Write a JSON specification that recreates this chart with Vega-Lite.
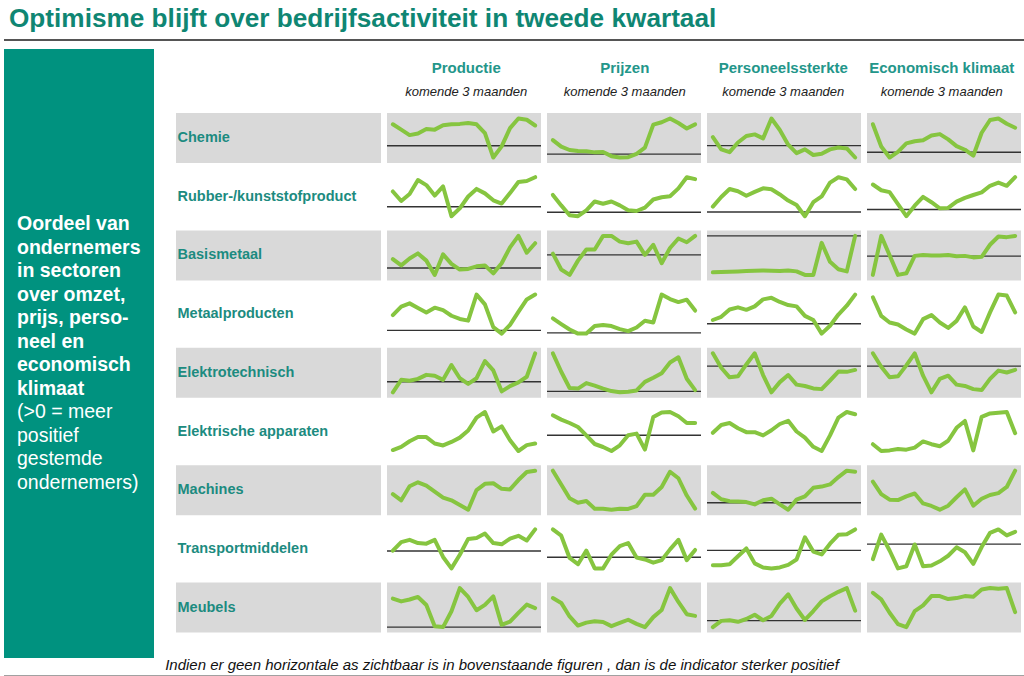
{
  "$schema": "https://vega.github.io/schema/vega-lite/v6.json",
  "background": "white",
  "padding": {"left": 3, "top": 0, "right": 0, "bottom": 0},
  "config": {
    "view": {"stroke": null},
    "font": "Liberation Sans",
    "line": {"color": "#86c540", "strokeWidth": 4, "strokeJoin": "round", "strokeCap": "round"},
    "rule": {"color": "#333333", "strokeWidth": 1.4},
    "rect": {"color": "#d9d9d9"}
  },
  "datasets": {
    "inds": [
      {"label": "Productie"}, {"label": "Prijzen"}, {"label": "Personeelssterkte"}, {"label": "Economisch klimaat"}
    ],
    "series": [
{"sector":"Chemie","ind":"Productie","t":0,"v":22.3},{"sector":"Chemie","ind":"Productie","t":1,"v":16.7},{"sector":"Chemie","ind":"Productie","t":2,"v":11},{"sector":"Chemie","ind":"Productie","t":3,"v":12.7},{"sector":"Chemie","ind":"Productie","t":4,"v":17.3},{"sector":"Chemie","ind":"Productie","t":5,"v":16.7},{"sector":"Chemie","ind":"Productie","t":6,"v":21.3},{"sector":"Chemie","ind":"Productie","t":7,"v":22.3},{"sector":"Chemie","ind":"Productie","t":8,"v":22.7},{"sector":"Chemie","ind":"Productie","t":9,"v":23.7},{"sector":"Chemie","ind":"Productie","t":10,"v":22.3},{"sector":"Chemie","ind":"Productie","t":11,"v":13},{"sector":"Chemie","ind":"Productie","t":12,"v":-12.3},{"sector":"Chemie","ind":"Productie","t":13,"v":-0.7},{"sector":"Chemie","ind":"Productie","t":14,"v":18.3},{"sector":"Chemie","ind":"Productie","t":15,"v":28.3},{"sector":"Chemie","ind":"Productie","t":16,"v":27},{"sector":"Chemie","ind":"Productie","t":17,"v":21},
{"sector":"Chemie","ind":"Prijzen","t":0,"v":13.7},{"sector":"Chemie","ind":"Prijzen","t":1,"v":7.3},{"sector":"Chemie","ind":"Prijzen","t":2,"v":4},{"sector":"Chemie","ind":"Prijzen","t":3,"v":3},{"sector":"Chemie","ind":"Prijzen","t":4,"v":2.7},{"sector":"Chemie","ind":"Prijzen","t":5,"v":1.7},{"sector":"Chemie","ind":"Prijzen","t":6,"v":2},{"sector":"Chemie","ind":"Prijzen","t":7,"v":-2},{"sector":"Chemie","ind":"Prijzen","t":8,"v":-3.3},{"sector":"Chemie","ind":"Prijzen","t":9,"v":-3},{"sector":"Chemie","ind":"Prijzen","t":10,"v":0.3},{"sector":"Chemie","ind":"Prijzen","t":11,"v":6.3},{"sector":"Chemie","ind":"Prijzen","t":12,"v":28.7},{"sector":"Chemie","ind":"Prijzen","t":13,"v":31},{"sector":"Chemie","ind":"Prijzen","t":14,"v":34.7},{"sector":"Chemie","ind":"Prijzen","t":15,"v":30.3},{"sector":"Chemie","ind":"Prijzen","t":16,"v":25},{"sector":"Chemie","ind":"Prijzen","t":17,"v":29},
{"sector":"Chemie","ind":"Personeel","t":0,"v":9},{"sector":"Chemie","ind":"Personeel","t":1,"v":-4},{"sector":"Chemie","ind":"Personeel","t":2,"v":-7},{"sector":"Chemie","ind":"Personeel","t":3,"v":3.3},{"sector":"Chemie","ind":"Personeel","t":4,"v":10.3},{"sector":"Chemie","ind":"Personeel","t":5,"v":12},{"sector":"Chemie","ind":"Personeel","t":6,"v":7.7},{"sector":"Chemie","ind":"Personeel","t":7,"v":29},{"sector":"Chemie","ind":"Personeel","t":8,"v":16.7},{"sector":"Chemie","ind":"Personeel","t":9,"v":1},{"sector":"Chemie","ind":"Personeel","t":10,"v":-8},{"sector":"Chemie","ind":"Personeel","t":11,"v":-4},{"sector":"Chemie","ind":"Personeel","t":12,"v":-10},{"sector":"Chemie","ind":"Personeel","t":13,"v":-8.7},{"sector":"Chemie","ind":"Personeel","t":14,"v":-4},{"sector":"Chemie","ind":"Personeel","t":15,"v":-2},{"sector":"Chemie","ind":"Personeel","t":16,"v":-3},{"sector":"Chemie","ind":"Personeel","t":17,"v":-12.7},
{"sector":"Chemie","ind":"Klimaat","t":0,"v":26.3},{"sector":"Chemie","ind":"Klimaat","t":1,"v":5.3},{"sector":"Chemie","ind":"Klimaat","t":2,"v":-5},{"sector":"Chemie","ind":"Klimaat","t":3,"v":0.3},{"sector":"Chemie","ind":"Klimaat","t":4,"v":8.3},{"sector":"Chemie","ind":"Klimaat","t":5,"v":10.3},{"sector":"Chemie","ind":"Klimaat","t":6,"v":11.3},{"sector":"Chemie","ind":"Klimaat","t":7,"v":15.7},{"sector":"Chemie","ind":"Klimaat","t":8,"v":17},{"sector":"Chemie","ind":"Klimaat","t":9,"v":12},{"sector":"Chemie","ind":"Klimaat","t":10,"v":5.7},{"sector":"Chemie","ind":"Klimaat","t":11,"v":2.3},{"sector":"Chemie","ind":"Klimaat","t":12,"v":-3.3},{"sector":"Chemie","ind":"Klimaat","t":13,"v":18.3},{"sector":"Chemie","ind":"Klimaat","t":14,"v":30.3},{"sector":"Chemie","ind":"Klimaat","t":15,"v":31.7},{"sector":"Chemie","ind":"Klimaat","t":16,"v":26.7},{"sector":"Chemie","ind":"Klimaat","t":17,"v":23},
{"sector":"Rubber","ind":"Productie","t":0,"v":16},{"sector":"Rubber","ind":"Productie","t":1,"v":6},{"sector":"Rubber","ind":"Productie","t":2,"v":13.3},{"sector":"Rubber","ind":"Productie","t":3,"v":28},{"sector":"Rubber","ind":"Productie","t":4,"v":22.7},{"sector":"Rubber","ind":"Productie","t":5,"v":11.7},{"sector":"Rubber","ind":"Productie","t":6,"v":21.3},{"sector":"Rubber","ind":"Productie","t":7,"v":-10},{"sector":"Rubber","ind":"Productie","t":8,"v":-1.7},{"sector":"Rubber","ind":"Productie","t":9,"v":10.7},{"sector":"Rubber","ind":"Productie","t":10,"v":18.7},{"sector":"Rubber","ind":"Productie","t":11,"v":14},{"sector":"Rubber","ind":"Productie","t":12,"v":6.7},{"sector":"Rubber","ind":"Productie","t":13,"v":3.3},{"sector":"Rubber","ind":"Productie","t":14,"v":14.3},{"sector":"Rubber","ind":"Productie","t":15,"v":26},{"sector":"Rubber","ind":"Productie","t":16,"v":27},{"sector":"Rubber","ind":"Productie","t":17,"v":31},
{"sector":"Rubber","ind":"Prijzen","t":0,"v":17.7},{"sector":"Rubber","ind":"Prijzen","t":1,"v":7},{"sector":"Rubber","ind":"Prijzen","t":2,"v":-3},{"sector":"Rubber","ind":"Prijzen","t":3,"v":-4},{"sector":"Rubber","ind":"Prijzen","t":4,"v":2},{"sector":"Rubber","ind":"Prijzen","t":5,"v":11},{"sector":"Rubber","ind":"Prijzen","t":6,"v":8.7},{"sector":"Rubber","ind":"Prijzen","t":7,"v":11},{"sector":"Rubber","ind":"Prijzen","t":8,"v":7},{"sector":"Rubber","ind":"Prijzen","t":9,"v":2},{"sector":"Rubber","ind":"Prijzen","t":10,"v":1.3},{"sector":"Rubber","ind":"Prijzen","t":11,"v":4.7},{"sector":"Rubber","ind":"Prijzen","t":12,"v":13},{"sector":"Rubber","ind":"Prijzen","t":13,"v":15.3},{"sector":"Rubber","ind":"Prijzen","t":14,"v":16.3},{"sector":"Rubber","ind":"Prijzen","t":15,"v":24.3},{"sector":"Rubber","ind":"Prijzen","t":16,"v":35.7},{"sector":"Rubber","ind":"Prijzen","t":17,"v":33.7},
{"sector":"Rubber","ind":"Personeel","t":0,"v":5.7},{"sector":"Rubber","ind":"Personeel","t":1,"v":15.7},{"sector":"Rubber","ind":"Personeel","t":2,"v":24},{"sector":"Rubber","ind":"Personeel","t":3,"v":21.7},{"sector":"Rubber","ind":"Personeel","t":4,"v":17},{"sector":"Rubber","ind":"Personeel","t":5,"v":21},{"sector":"Rubber","ind":"Personeel","t":6,"v":24.7},{"sector":"Rubber","ind":"Personeel","t":7,"v":23.7},{"sector":"Rubber","ind":"Personeel","t":8,"v":18.3},{"sector":"Rubber","ind":"Personeel","t":9,"v":12},{"sector":"Rubber","ind":"Personeel","t":10,"v":7.3},{"sector":"Rubber","ind":"Personeel","t":11,"v":-4.3},{"sector":"Rubber","ind":"Personeel","t":12,"v":10.3},{"sector":"Rubber","ind":"Personeel","t":13,"v":16.3},{"sector":"Rubber","ind":"Personeel","t":14,"v":30.7},{"sector":"Rubber","ind":"Personeel","t":15,"v":36.3},{"sector":"Rubber","ind":"Personeel","t":16,"v":34},{"sector":"Rubber","ind":"Personeel","t":17,"v":24},
{"sector":"Rubber","ind":"Klimaat","t":0,"v":26.3},{"sector":"Rubber","ind":"Klimaat","t":1,"v":20.3},{"sector":"Rubber","ind":"Klimaat","t":2,"v":18.3},{"sector":"Rubber","ind":"Klimaat","t":3,"v":5.7},{"sector":"Rubber","ind":"Klimaat","t":4,"v":-7},{"sector":"Rubber","ind":"Klimaat","t":5,"v":4},{"sector":"Rubber","ind":"Klimaat","t":6,"v":13.3},{"sector":"Rubber","ind":"Klimaat","t":7,"v":7.7},{"sector":"Rubber","ind":"Klimaat","t":8,"v":1.3},{"sector":"Rubber","ind":"Klimaat","t":9,"v":1.7},{"sector":"Rubber","ind":"Klimaat","t":10,"v":8.3},{"sector":"Rubber","ind":"Klimaat","t":11,"v":12.3},{"sector":"Rubber","ind":"Klimaat","t":12,"v":15.3},{"sector":"Rubber","ind":"Klimaat","t":13,"v":18},{"sector":"Rubber","ind":"Klimaat","t":14,"v":25},{"sector":"Rubber","ind":"Klimaat","t":15,"v":28.3},{"sector":"Rubber","ind":"Klimaat","t":16,"v":25},{"sector":"Rubber","ind":"Klimaat","t":17,"v":34},
{"sector":"Basismetaal","ind":"Productie","t":0,"v":9.3},{"sector":"Basismetaal","ind":"Productie","t":1,"v":2.7},{"sector":"Basismetaal","ind":"Productie","t":2,"v":10},{"sector":"Basismetaal","ind":"Productie","t":3,"v":15.3},{"sector":"Basismetaal","ind":"Productie","t":4,"v":7.7},{"sector":"Basismetaal","ind":"Productie","t":5,"v":-7.3},{"sector":"Basismetaal","ind":"Productie","t":6,"v":14.3},{"sector":"Basismetaal","ind":"Productie","t":7,"v":4.3},{"sector":"Basismetaal","ind":"Productie","t":8,"v":-1.7},{"sector":"Basismetaal","ind":"Productie","t":9,"v":-1},{"sector":"Basismetaal","ind":"Productie","t":10,"v":1.7},{"sector":"Basismetaal","ind":"Productie","t":11,"v":2.7},{"sector":"Basismetaal","ind":"Productie","t":12,"v":-5.7},{"sector":"Basismetaal","ind":"Productie","t":13,"v":5},{"sector":"Basismetaal","ind":"Productie","t":14,"v":21.7},{"sector":"Basismetaal","ind":"Productie","t":15,"v":33.7},{"sector":"Basismetaal","ind":"Productie","t":16,"v":16},{"sector":"Basismetaal","ind":"Productie","t":17,"v":26},
{"sector":"Basismetaal","ind":"Prijzen","t":0,"v":1.3},{"sector":"Basismetaal","ind":"Prijzen","t":1,"v":-15.3},{"sector":"Basismetaal","ind":"Prijzen","t":2,"v":-21},{"sector":"Basismetaal","ind":"Prijzen","t":3,"v":-6},{"sector":"Basismetaal","ind":"Prijzen","t":4,"v":5.7},{"sector":"Basismetaal","ind":"Prijzen","t":5,"v":5.7},{"sector":"Basismetaal","ind":"Prijzen","t":6,"v":20},{"sector":"Basismetaal","ind":"Prijzen","t":7,"v":20},{"sector":"Basismetaal","ind":"Prijzen","t":8,"v":14},{"sector":"Basismetaal","ind":"Prijzen","t":9,"v":12.3},{"sector":"Basismetaal","ind":"Prijzen","t":10,"v":14},{"sector":"Basismetaal","ind":"Prijzen","t":11,"v":0},{"sector":"Basismetaal","ind":"Prijzen","t":12,"v":10.7},{"sector":"Basismetaal","ind":"Prijzen","t":13,"v":-8.7},{"sector":"Basismetaal","ind":"Prijzen","t":14,"v":7.3},{"sector":"Basismetaal","ind":"Prijzen","t":15,"v":17.3},{"sector":"Basismetaal","ind":"Prijzen","t":16,"v":13.3},{"sector":"Basismetaal","ind":"Prijzen","t":17,"v":20},
{"sector":"Basismetaal","ind":"Personeel","t":0,"v":-38.3},{"sector":"Basismetaal","ind":"Personeel","t":1,"v":-38},{"sector":"Basismetaal","ind":"Personeel","t":2,"v":-37.7},{"sector":"Basismetaal","ind":"Personeel","t":3,"v":-37.3},{"sector":"Basismetaal","ind":"Personeel","t":4,"v":-37},{"sector":"Basismetaal","ind":"Personeel","t":5,"v":-36.7},{"sector":"Basismetaal","ind":"Personeel","t":6,"v":-36.3},{"sector":"Basismetaal","ind":"Personeel","t":7,"v":-36.7},{"sector":"Basismetaal","ind":"Personeel","t":8,"v":-37},{"sector":"Basismetaal","ind":"Personeel","t":9,"v":-36.3},{"sector":"Basismetaal","ind":"Personeel","t":10,"v":-37.3},{"sector":"Basismetaal","ind":"Personeel","t":11,"v":-41},{"sector":"Basismetaal","ind":"Personeel","t":12,"v":-41},{"sector":"Basismetaal","ind":"Personeel","t":13,"v":-7.3},{"sector":"Basismetaal","ind":"Personeel","t":14,"v":-27.3},{"sector":"Basismetaal","ind":"Personeel","t":15,"v":-35},{"sector":"Basismetaal","ind":"Personeel","t":16,"v":-37.3},{"sector":"Basismetaal","ind":"Personeel","t":17,"v":0},
{"sector":"Basismetaal","ind":"Klimaat","t":0,"v":-19.7},{"sector":"Basismetaal","ind":"Klimaat","t":1,"v":21.3},{"sector":"Basismetaal","ind":"Klimaat","t":2,"v":1},{"sector":"Basismetaal","ind":"Klimaat","t":3,"v":-19.7},{"sector":"Basismetaal","ind":"Klimaat","t":4,"v":-18},{"sector":"Basismetaal","ind":"Klimaat","t":5,"v":0.3},{"sector":"Basismetaal","ind":"Klimaat","t":6,"v":1.3},{"sector":"Basismetaal","ind":"Klimaat","t":7,"v":0.7},{"sector":"Basismetaal","ind":"Klimaat","t":8,"v":0.7},{"sector":"Basismetaal","ind":"Klimaat","t":9,"v":1.3},{"sector":"Basismetaal","ind":"Klimaat","t":10,"v":0},{"sector":"Basismetaal","ind":"Klimaat","t":11,"v":0.3},{"sector":"Basismetaal","ind":"Klimaat","t":12,"v":-1.3},{"sector":"Basismetaal","ind":"Klimaat","t":13,"v":-0.7},{"sector":"Basismetaal","ind":"Klimaat","t":14,"v":12},{"sector":"Basismetaal","ind":"Klimaat","t":15,"v":20.7},{"sector":"Basismetaal","ind":"Klimaat","t":16,"v":20},{"sector":"Basismetaal","ind":"Klimaat","t":17,"v":21.3},
{"sector":"Metaal","ind":"Productie","t":0,"v":15.7},{"sector":"Metaal","ind":"Productie","t":1,"v":24.3},{"sector":"Metaal","ind":"Productie","t":2,"v":27.7},{"sector":"Metaal","ind":"Productie","t":3,"v":23},{"sector":"Metaal","ind":"Productie","t":4,"v":18.3},{"sector":"Metaal","ind":"Productie","t":5,"v":23.3},{"sector":"Metaal","ind":"Productie","t":6,"v":20.7},{"sector":"Metaal","ind":"Productie","t":7,"v":15},{"sector":"Metaal","ind":"Productie","t":8,"v":11.7},{"sector":"Metaal","ind":"Productie","t":9,"v":10},{"sector":"Metaal","ind":"Productie","t":10,"v":36.7},{"sector":"Metaal","ind":"Productie","t":11,"v":26.7},{"sector":"Metaal","ind":"Productie","t":12,"v":3.3},{"sector":"Metaal","ind":"Productie","t":13,"v":-3.3},{"sector":"Metaal","ind":"Productie","t":14,"v":5.7},{"sector":"Metaal","ind":"Productie","t":15,"v":19},{"sector":"Metaal","ind":"Productie","t":16,"v":31.7},{"sector":"Metaal","ind":"Productie","t":17,"v":36.7},
{"sector":"Metaal","ind":"Prijzen","t":0,"v":14.3},{"sector":"Metaal","ind":"Prijzen","t":1,"v":8.7},{"sector":"Metaal","ind":"Prijzen","t":2,"v":3.3},{"sector":"Metaal","ind":"Prijzen","t":3,"v":-0.7},{"sector":"Metaal","ind":"Prijzen","t":4,"v":-0.7},{"sector":"Metaal","ind":"Prijzen","t":5,"v":6.7},{"sector":"Metaal","ind":"Prijzen","t":6,"v":7.7},{"sector":"Metaal","ind":"Prijzen","t":7,"v":6.7},{"sector":"Metaal","ind":"Prijzen","t":8,"v":3.7},{"sector":"Metaal","ind":"Prijzen","t":9,"v":1.7},{"sector":"Metaal","ind":"Prijzen","t":10,"v":5.3},{"sector":"Metaal","ind":"Prijzen","t":11,"v":12},{"sector":"Metaal","ind":"Prijzen","t":12,"v":10.3},{"sector":"Metaal","ind":"Prijzen","t":13,"v":37.7},{"sector":"Metaal","ind":"Prijzen","t":14,"v":33.3},{"sector":"Metaal","ind":"Prijzen","t":15,"v":30.3},{"sector":"Metaal","ind":"Prijzen","t":16,"v":32.7},{"sector":"Metaal","ind":"Prijzen","t":17,"v":22},
{"sector":"Metaal","ind":"Personeel","t":0,"v":4},{"sector":"Metaal","ind":"Personeel","t":1,"v":7.3},{"sector":"Metaal","ind":"Personeel","t":2,"v":15},{"sector":"Metaal","ind":"Personeel","t":3,"v":17.3},{"sector":"Metaal","ind":"Personeel","t":4,"v":14.7},{"sector":"Metaal","ind":"Personeel","t":5,"v":18.3},{"sector":"Metaal","ind":"Personeel","t":6,"v":25.7},{"sector":"Metaal","ind":"Personeel","t":7,"v":27.3},{"sector":"Metaal","ind":"Personeel","t":8,"v":23},{"sector":"Metaal","ind":"Personeel","t":9,"v":19.7},{"sector":"Metaal","ind":"Personeel","t":10,"v":18.3},{"sector":"Metaal","ind":"Personeel","t":11,"v":8.3},{"sector":"Metaal","ind":"Personeel","t":12,"v":4},{"sector":"Metaal","ind":"Personeel","t":13,"v":-10.3},{"sector":"Metaal","ind":"Personeel","t":14,"v":-2},{"sector":"Metaal","ind":"Personeel","t":15,"v":9.7},{"sector":"Metaal","ind":"Personeel","t":16,"v":19},{"sector":"Metaal","ind":"Personeel","t":17,"v":30.7},
{"sector":"Metaal","ind":"Klimaat","t":0,"v":51.7},{"sector":"Metaal","ind":"Klimaat","t":1,"v":33.3},{"sector":"Metaal","ind":"Klimaat","t":2,"v":26.7},{"sector":"Metaal","ind":"Klimaat","t":3,"v":24.7},{"sector":"Metaal","ind":"Klimaat","t":4,"v":19.7},{"sector":"Metaal","ind":"Klimaat","t":5,"v":15.7},{"sector":"Metaal","ind":"Klimaat","t":6,"v":30},{"sector":"Metaal","ind":"Klimaat","t":7,"v":34},{"sector":"Metaal","ind":"Klimaat","t":8,"v":26.7},{"sector":"Metaal","ind":"Klimaat","t":9,"v":21.3},{"sector":"Metaal","ind":"Klimaat","t":10,"v":28.3},{"sector":"Metaal","ind":"Klimaat","t":11,"v":41.7},{"sector":"Metaal","ind":"Klimaat","t":12,"v":22.7},{"sector":"Metaal","ind":"Klimaat","t":13,"v":17.3},{"sector":"Metaal","ind":"Klimaat","t":14,"v":36.7},{"sector":"Metaal","ind":"Klimaat","t":15,"v":54.3},{"sector":"Metaal","ind":"Klimaat","t":16,"v":53.3},{"sector":"Metaal","ind":"Klimaat","t":17,"v":36.7},
{"sector":"Elektrotech","ind":"Productie","t":0,"v":-11.3},{"sector":"Elektrotech","ind":"Productie","t":1,"v":2},{"sector":"Elektrotech","ind":"Productie","t":2,"v":1},{"sector":"Elektrotech","ind":"Productie","t":3,"v":3},{"sector":"Elektrotech","ind":"Productie","t":4,"v":7.3},{"sector":"Elektrotech","ind":"Productie","t":5,"v":6.3},{"sector":"Elektrotech","ind":"Productie","t":6,"v":2},{"sector":"Elektrotech","ind":"Productie","t":7,"v":17.7},{"sector":"Elektrotech","ind":"Productie","t":8,"v":3.7},{"sector":"Elektrotech","ind":"Productie","t":9,"v":-2.3},{"sector":"Elektrotech","ind":"Productie","t":10,"v":3.7},{"sector":"Elektrotech","ind":"Productie","t":11,"v":22},{"sector":"Elektrotech","ind":"Productie","t":12,"v":12},{"sector":"Elektrotech","ind":"Productie","t":13,"v":-10.3},{"sector":"Elektrotech","ind":"Productie","t":14,"v":-4.7},{"sector":"Elektrotech","ind":"Productie","t":15,"v":-0.7},{"sector":"Elektrotech","ind":"Productie","t":16,"v":5.3},{"sector":"Elektrotech","ind":"Productie","t":17,"v":30.3},
{"sector":"Elektrotech","ind":"Prijzen","t":0,"v":41.3},{"sector":"Elektrotech","ind":"Prijzen","t":1,"v":21.3},{"sector":"Elektrotech","ind":"Prijzen","t":2,"v":3.7},{"sector":"Elektrotech","ind":"Prijzen","t":3,"v":3},{"sector":"Elektrotech","ind":"Prijzen","t":4,"v":9},{"sector":"Elektrotech","ind":"Prijzen","t":5,"v":6.3},{"sector":"Elektrotech","ind":"Prijzen","t":6,"v":3},{"sector":"Elektrotech","ind":"Prijzen","t":7,"v":0.3},{"sector":"Elektrotech","ind":"Prijzen","t":8,"v":-1},{"sector":"Elektrotech","ind":"Prijzen","t":9,"v":-0.3},{"sector":"Elektrotech","ind":"Prijzen","t":10,"v":1},{"sector":"Elektrotech","ind":"Prijzen","t":11,"v":10.3},{"sector":"Elektrotech","ind":"Prijzen","t":12,"v":14.7},{"sector":"Elektrotech","ind":"Prijzen","t":13,"v":19.7},{"sector":"Elektrotech","ind":"Prijzen","t":14,"v":31.3},{"sector":"Elektrotech","ind":"Prijzen","t":15,"v":37},{"sector":"Elektrotech","ind":"Prijzen","t":16,"v":13.7},{"sector":"Elektrotech","ind":"Prijzen","t":17,"v":1.3},
{"sector":"Elektrotech","ind":"Personeel","t":0,"v":13.3},{"sector":"Elektrotech","ind":"Personeel","t":1,"v":-1.7},{"sector":"Elektrotech","ind":"Personeel","t":2,"v":-11.7},{"sector":"Elektrotech","ind":"Personeel","t":3,"v":-10.7},{"sector":"Elektrotech","ind":"Personeel","t":4,"v":1.7},{"sector":"Elektrotech","ind":"Personeel","t":5,"v":13.3},{"sector":"Elektrotech","ind":"Personeel","t":6,"v":-9.3},{"sector":"Elektrotech","ind":"Personeel","t":7,"v":-27.3},{"sector":"Elektrotech","ind":"Personeel","t":8,"v":-16.7},{"sector":"Elektrotech","ind":"Personeel","t":9,"v":-9.3},{"sector":"Elektrotech","ind":"Personeel","t":10,"v":-19.3},{"sector":"Elektrotech","ind":"Personeel","t":11,"v":-20.7},{"sector":"Elektrotech","ind":"Personeel","t":12,"v":-23.3},{"sector":"Elektrotech","ind":"Personeel","t":13,"v":-24},{"sector":"Elektrotech","ind":"Personeel","t":14,"v":-15},{"sector":"Elektrotech","ind":"Personeel","t":15,"v":-5.7},{"sector":"Elektrotech","ind":"Personeel","t":16,"v":-6},{"sector":"Elektrotech","ind":"Personeel","t":17,"v":-4},
{"sector":"Elektrotech","ind":"Klimaat","t":0,"v":13.3},{"sector":"Elektrotech","ind":"Klimaat","t":1,"v":-0.7},{"sector":"Elektrotech","ind":"Klimaat","t":2,"v":-11.7},{"sector":"Elektrotech","ind":"Klimaat","t":3,"v":-10.7},{"sector":"Elektrotech","ind":"Klimaat","t":4,"v":0.7},{"sector":"Elektrotech","ind":"Klimaat","t":5,"v":13.3},{"sector":"Elektrotech","ind":"Klimaat","t":6,"v":-10},{"sector":"Elektrotech","ind":"Klimaat","t":7,"v":-27.3},{"sector":"Elektrotech","ind":"Klimaat","t":8,"v":-13.3},{"sector":"Elektrotech","ind":"Klimaat","t":9,"v":-10},{"sector":"Elektrotech","ind":"Klimaat","t":10,"v":-19.3},{"sector":"Elektrotech","ind":"Klimaat","t":11,"v":-20.7},{"sector":"Elektrotech","ind":"Klimaat","t":12,"v":-24},{"sector":"Elektrotech","ind":"Klimaat","t":13,"v":-25},{"sector":"Elektrotech","ind":"Klimaat","t":14,"v":-13.3},{"sector":"Elektrotech","ind":"Klimaat","t":15,"v":-4.7},{"sector":"Elektrotech","ind":"Klimaat","t":16,"v":-6.7},{"sector":"Elektrotech","ind":"Klimaat","t":17,"v":-4},
{"sector":"Elektrisch","ind":"Productie","t":0,"v":15},{"sector":"Elektrisch","ind":"Productie","t":1,"v":18.3},{"sector":"Elektrisch","ind":"Productie","t":2,"v":24},{"sector":"Elektrisch","ind":"Productie","t":3,"v":28.3},{"sector":"Elektrisch","ind":"Productie","t":4,"v":28.3},{"sector":"Elektrisch","ind":"Productie","t":5,"v":21.7},{"sector":"Elektrisch","ind":"Productie","t":6,"v":19.7},{"sector":"Elektrisch","ind":"Productie","t":7,"v":23.3},{"sector":"Elektrisch","ind":"Productie","t":8,"v":27.7},{"sector":"Elektrisch","ind":"Productie","t":9,"v":35},{"sector":"Elektrisch","ind":"Productie","t":10,"v":48.3},{"sector":"Elektrisch","ind":"Productie","t":11,"v":54},{"sector":"Elektrisch","ind":"Productie","t":12,"v":34},{"sector":"Elektrisch","ind":"Productie","t":13,"v":39.3},{"sector":"Elektrisch","ind":"Productie","t":14,"v":25},{"sector":"Elektrisch","ind":"Productie","t":15,"v":14},{"sector":"Elektrisch","ind":"Productie","t":16,"v":20},{"sector":"Elektrisch","ind":"Productie","t":17,"v":21.7},
{"sector":"Elektrisch","ind":"Prijzen","t":0,"v":20},{"sector":"Elektrisch","ind":"Prijzen","t":1,"v":15.7},{"sector":"Elektrisch","ind":"Prijzen","t":2,"v":12.3},{"sector":"Elektrisch","ind":"Prijzen","t":3,"v":8.3},{"sector":"Elektrisch","ind":"Prijzen","t":4,"v":0},{"sector":"Elektrisch","ind":"Prijzen","t":5,"v":-8.7},{"sector":"Elektrisch","ind":"Prijzen","t":6,"v":-11.7},{"sector":"Elektrisch","ind":"Prijzen","t":7,"v":-15.7},{"sector":"Elektrisch","ind":"Prijzen","t":8,"v":-10},{"sector":"Elektrisch","ind":"Prijzen","t":9,"v":0},{"sector":"Elektrisch","ind":"Prijzen","t":10,"v":1.7},{"sector":"Elektrisch","ind":"Prijzen","t":11,"v":-14.3},{"sector":"Elektrisch","ind":"Prijzen","t":12,"v":18.3},{"sector":"Elektrisch","ind":"Prijzen","t":13,"v":22.7},{"sector":"Elektrisch","ind":"Prijzen","t":14,"v":23.3},{"sector":"Elektrisch","ind":"Prijzen","t":15,"v":19},{"sector":"Elektrisch","ind":"Prijzen","t":16,"v":12.3},{"sector":"Elektrisch","ind":"Prijzen","t":17,"v":12.3},
{"sector":"Elektrisch","ind":"Personeel","t":0,"v":32.7},{"sector":"Elektrisch","ind":"Personeel","t":1,"v":40.7},{"sector":"Elektrisch","ind":"Personeel","t":2,"v":42.7},{"sector":"Elektrisch","ind":"Personeel","t":3,"v":37.3},{"sector":"Elektrisch","ind":"Personeel","t":4,"v":33.3},{"sector":"Elektrisch","ind":"Personeel","t":5,"v":33.3},{"sector":"Elektrisch","ind":"Personeel","t":6,"v":30},{"sector":"Elektrisch","ind":"Personeel","t":7,"v":35.3},{"sector":"Elektrisch","ind":"Personeel","t":8,"v":41.7},{"sector":"Elektrisch","ind":"Personeel","t":9,"v":45},{"sector":"Elektrisch","ind":"Personeel","t":10,"v":34},{"sector":"Elektrisch","ind":"Personeel","t":11,"v":27.7},{"sector":"Elektrisch","ind":"Personeel","t":12,"v":18.3},{"sector":"Elektrisch","ind":"Personeel","t":13,"v":14},{"sector":"Elektrisch","ind":"Personeel","t":14,"v":30},{"sector":"Elektrisch","ind":"Personeel","t":15,"v":48.3},{"sector":"Elektrisch","ind":"Personeel","t":16,"v":54},{"sector":"Elektrisch","ind":"Personeel","t":17,"v":51.7},
{"sector":"Elektrisch","ind":"Klimaat","t":0,"v":23.3},{"sector":"Elektrisch","ind":"Klimaat","t":1,"v":16.7},{"sector":"Elektrisch","ind":"Klimaat","t":2,"v":17.3},{"sector":"Elektrisch","ind":"Klimaat","t":3,"v":18.7},{"sector":"Elektrisch","ind":"Klimaat","t":4,"v":18},{"sector":"Elektrisch","ind":"Klimaat","t":5,"v":20},{"sector":"Elektrisch","ind":"Klimaat","t":6,"v":26},{"sector":"Elektrisch","ind":"Klimaat","t":7,"v":23.3},{"sector":"Elektrisch","ind":"Klimaat","t":8,"v":21.3},{"sector":"Elektrisch","ind":"Klimaat","t":9,"v":26.7},{"sector":"Elektrisch","ind":"Klimaat","t":10,"v":39.3},{"sector":"Elektrisch","ind":"Klimaat","t":11,"v":46},{"sector":"Elektrisch","ind":"Klimaat","t":12,"v":17.3},{"sector":"Elektrisch","ind":"Klimaat","t":13,"v":50},{"sector":"Elektrisch","ind":"Klimaat","t":14,"v":53.3},{"sector":"Elektrisch","ind":"Klimaat","t":15,"v":54},{"sector":"Elektrisch","ind":"Klimaat","t":16,"v":54.7},{"sector":"Elektrisch","ind":"Klimaat","t":17,"v":34},
{"sector":"Machines","ind":"Productie","t":0,"v":31.7},{"sector":"Machines","ind":"Productie","t":1,"v":25},{"sector":"Machines","ind":"Productie","t":2,"v":40},{"sector":"Machines","ind":"Productie","t":3,"v":44.3},{"sector":"Machines","ind":"Productie","t":4,"v":40.7},{"sector":"Machines","ind":"Productie","t":5,"v":34.3},{"sector":"Machines","ind":"Productie","t":6,"v":28},{"sector":"Machines","ind":"Productie","t":7,"v":25},{"sector":"Machines","ind":"Productie","t":8,"v":20},{"sector":"Machines","ind":"Productie","t":9,"v":15},{"sector":"Machines","ind":"Productie","t":10,"v":36},{"sector":"Machines","ind":"Productie","t":11,"v":42.7},{"sector":"Machines","ind":"Productie","t":12,"v":43.3},{"sector":"Machines","ind":"Productie","t":13,"v":37.3},{"sector":"Machines","ind":"Productie","t":14,"v":36.7},{"sector":"Machines","ind":"Productie","t":15,"v":46.7},{"sector":"Machines","ind":"Productie","t":16,"v":55.3},{"sector":"Machines","ind":"Productie","t":17,"v":56.7},
{"sector":"Machines","ind":"Prijzen","t":0,"v":55},{"sector":"Machines","ind":"Prijzen","t":1,"v":41.7},{"sector":"Machines","ind":"Prijzen","t":2,"v":28.3},{"sector":"Machines","ind":"Prijzen","t":3,"v":24},{"sector":"Machines","ind":"Prijzen","t":4,"v":25.7},{"sector":"Machines","ind":"Prijzen","t":5,"v":18.3},{"sector":"Machines","ind":"Prijzen","t":6,"v":18.3},{"sector":"Machines","ind":"Prijzen","t":7,"v":17.3},{"sector":"Machines","ind":"Prijzen","t":8,"v":18.3},{"sector":"Machines","ind":"Prijzen","t":9,"v":18},{"sector":"Machines","ind":"Prijzen","t":10,"v":20.7},{"sector":"Machines","ind":"Prijzen","t":11,"v":31.7},{"sector":"Machines","ind":"Prijzen","t":12,"v":31.7},{"sector":"Machines","ind":"Prijzen","t":13,"v":39.3},{"sector":"Machines","ind":"Prijzen","t":14,"v":54},{"sector":"Machines","ind":"Prijzen","t":15,"v":47.7},{"sector":"Machines","ind":"Prijzen","t":16,"v":31},{"sector":"Machines","ind":"Prijzen","t":17,"v":18.3},
{"sector":"Machines","ind":"Personeel","t":0,"v":10.3},{"sector":"Machines","ind":"Personeel","t":1,"v":3.7},{"sector":"Machines","ind":"Personeel","t":2,"v":1.7},{"sector":"Machines","ind":"Personeel","t":3,"v":1.3},{"sector":"Machines","ind":"Personeel","t":4,"v":0.7},{"sector":"Machines","ind":"Personeel","t":5,"v":-1.7},{"sector":"Machines","ind":"Personeel","t":6,"v":2.7},{"sector":"Machines","ind":"Personeel","t":7,"v":4.3},{"sector":"Machines","ind":"Personeel","t":8,"v":-1.7},{"sector":"Machines","ind":"Personeel","t":9,"v":-7.3},{"sector":"Machines","ind":"Personeel","t":10,"v":3.3},{"sector":"Machines","ind":"Personeel","t":11,"v":6.7},{"sector":"Machines","ind":"Personeel","t":12,"v":15.7},{"sector":"Machines","ind":"Personeel","t":13,"v":17},{"sector":"Machines","ind":"Personeel","t":14,"v":19.3},{"sector":"Machines","ind":"Personeel","t":15,"v":27},{"sector":"Machines","ind":"Personeel","t":16,"v":33.7},{"sector":"Machines","ind":"Personeel","t":17,"v":32.7},
{"sector":"Machines","ind":"Klimaat","t":0,"v":45},{"sector":"Machines","ind":"Klimaat","t":1,"v":31.7},{"sector":"Machines","ind":"Klimaat","t":2,"v":25.7},{"sector":"Machines","ind":"Klimaat","t":3,"v":25.3},{"sector":"Machines","ind":"Klimaat","t":4,"v":29.3},{"sector":"Machines","ind":"Klimaat","t":5,"v":32.3},{"sector":"Machines","ind":"Klimaat","t":6,"v":21.7},{"sector":"Machines","ind":"Klimaat","t":7,"v":19},{"sector":"Machines","ind":"Klimaat","t":8,"v":15},{"sector":"Machines","ind":"Klimaat","t":9,"v":19.3},{"sector":"Machines","ind":"Klimaat","t":10,"v":28.3},{"sector":"Machines","ind":"Klimaat","t":11,"v":36.7},{"sector":"Machines","ind":"Klimaat","t":12,"v":19.3},{"sector":"Machines","ind":"Klimaat","t":13,"v":26.7},{"sector":"Machines","ind":"Klimaat","t":14,"v":30.7},{"sector":"Machines","ind":"Klimaat","t":15,"v":32.7},{"sector":"Machines","ind":"Klimaat","t":16,"v":39.3},{"sector":"Machines","ind":"Klimaat","t":17,"v":56.7},
{"sector":"Transport","ind":"Productie","t":0,"v":0.3},{"sector":"Transport","ind":"Productie","t":1,"v":9.3},{"sector":"Transport","ind":"Productie","t":2,"v":11.7},{"sector":"Transport","ind":"Productie","t":3,"v":8.3},{"sector":"Transport","ind":"Productie","t":4,"v":7.7},{"sector":"Transport","ind":"Productie","t":5,"v":11.7},{"sector":"Transport","ind":"Productie","t":6,"v":-6.3},{"sector":"Transport","ind":"Productie","t":7,"v":-18.3},{"sector":"Transport","ind":"Productie","t":8,"v":-4},{"sector":"Transport","ind":"Productie","t":9,"v":12.7},{"sector":"Transport","ind":"Productie","t":10,"v":13.7},{"sector":"Transport","ind":"Productie","t":11,"v":18.3},{"sector":"Transport","ind":"Productie","t":12,"v":8.3},{"sector":"Transport","ind":"Productie","t":13,"v":7},{"sector":"Transport","ind":"Productie","t":14,"v":13},{"sector":"Transport","ind":"Productie","t":15,"v":16},{"sector":"Transport","ind":"Productie","t":16,"v":11},{"sector":"Transport","ind":"Productie","t":17,"v":22.7},
{"sector":"Transport","ind":"Prijzen","t":0,"v":29.3},{"sector":"Transport","ind":"Prijzen","t":1,"v":22.7},{"sector":"Transport","ind":"Prijzen","t":2,"v":-0.7},{"sector":"Transport","ind":"Prijzen","t":3,"v":-7.3},{"sector":"Transport","ind":"Prijzen","t":4,"v":7},{"sector":"Transport","ind":"Prijzen","t":5,"v":-11.7},{"sector":"Transport","ind":"Prijzen","t":6,"v":-11.7},{"sector":"Transport","ind":"Prijzen","t":7,"v":2.7},{"sector":"Transport","ind":"Prijzen","t":8,"v":11.7},{"sector":"Transport","ind":"Prijzen","t":9,"v":15},{"sector":"Transport","ind":"Prijzen","t":10,"v":-0.3},{"sector":"Transport","ind":"Prijzen","t":11,"v":-2.3},{"sector":"Transport","ind":"Prijzen","t":12,"v":-5.7},{"sector":"Transport","ind":"Prijzen","t":13,"v":-3},{"sector":"Transport","ind":"Prijzen","t":14,"v":8.3},{"sector":"Transport","ind":"Prijzen","t":15,"v":18.3},{"sector":"Transport","ind":"Prijzen","t":16,"v":-3},{"sector":"Transport","ind":"Prijzen","t":17,"v":7.7},
{"sector":"Transport","ind":"Personeel","t":0,"v":-15.7},{"sector":"Transport","ind":"Personeel","t":1,"v":-15.7},{"sector":"Transport","ind":"Personeel","t":2,"v":-14.7},{"sector":"Transport","ind":"Personeel","t":3,"v":-6.3},{"sector":"Transport","ind":"Personeel","t":4,"v":2},{"sector":"Transport","ind":"Personeel","t":5,"v":-13.7},{"sector":"Transport","ind":"Personeel","t":6,"v":-18},{"sector":"Transport","ind":"Personeel","t":7,"v":-19},{"sector":"Transport","ind":"Personeel","t":8,"v":-18},{"sector":"Transport","ind":"Personeel","t":9,"v":-15.3},{"sector":"Transport","ind":"Personeel","t":10,"v":-9.7},{"sector":"Transport","ind":"Personeel","t":11,"v":13.7},{"sector":"Transport","ind":"Personeel","t":12,"v":-1.3},{"sector":"Transport","ind":"Personeel","t":13,"v":-4.3},{"sector":"Transport","ind":"Personeel","t":14,"v":7},{"sector":"Transport","ind":"Personeel","t":15,"v":16.3},{"sector":"Transport","ind":"Personeel","t":16,"v":17},{"sector":"Transport","ind":"Personeel","t":17,"v":22},
{"sector":"Transport","ind":"Klimaat","t":0,"v":-14.3},{"sector":"Transport","ind":"Klimaat","t":1,"v":9},{"sector":"Transport","ind":"Klimaat","t":2,"v":-6},{"sector":"Transport","ind":"Klimaat","t":3,"v":-23},{"sector":"Transport","ind":"Klimaat","t":4,"v":-21},{"sector":"Transport","ind":"Klimaat","t":5,"v":-0.3},{"sector":"Transport","ind":"Klimaat","t":6,"v":-21},{"sector":"Transport","ind":"Klimaat","t":7,"v":-20.3},{"sector":"Transport","ind":"Klimaat","t":8,"v":-16.3},{"sector":"Transport","ind":"Klimaat","t":9,"v":-11},{"sector":"Transport","ind":"Klimaat","t":10,"v":-3},{"sector":"Transport","ind":"Klimaat","t":11,"v":-7.7},{"sector":"Transport","ind":"Klimaat","t":12,"v":-18.7},{"sector":"Transport","ind":"Klimaat","t":13,"v":-2.7},{"sector":"Transport","ind":"Klimaat","t":14,"v":10.7},{"sector":"Transport","ind":"Klimaat","t":15,"v":14},{"sector":"Transport","ind":"Klimaat","t":16,"v":8.3},{"sector":"Transport","ind":"Klimaat","t":17,"v":11.7},
{"sector":"Meubels","ind":"Productie","t":0,"v":30},{"sector":"Meubels","ind":"Productie","t":1,"v":27},{"sector":"Meubels","ind":"Productie","t":2,"v":29},{"sector":"Meubels","ind":"Productie","t":3,"v":31.7},{"sector":"Meubels","ind":"Productie","t":4,"v":23.3},{"sector":"Meubels","ind":"Productie","t":5,"v":1},{"sector":"Meubels","ind":"Productie","t":6,"v":0},{"sector":"Meubels","ind":"Productie","t":7,"v":16.7},{"sector":"Meubels","ind":"Productie","t":8,"v":41},{"sector":"Meubels","ind":"Productie","t":9,"v":31.7},{"sector":"Meubels","ind":"Productie","t":10,"v":17.7},{"sector":"Meubels","ind":"Productie","t":11,"v":23.3},{"sector":"Meubels","ind":"Productie","t":12,"v":32.3},{"sector":"Meubels","ind":"Productie","t":13,"v":2.3},{"sector":"Meubels","ind":"Productie","t":14,"v":5.7},{"sector":"Meubels","ind":"Productie","t":15,"v":15},{"sector":"Meubels","ind":"Productie","t":16,"v":23.7},{"sector":"Meubels","ind":"Productie","t":17,"v":20},
{"sector":"Meubels","ind":"Prijzen","t":0,"v":45.7},{"sector":"Meubels","ind":"Prijzen","t":1,"v":40.7},{"sector":"Meubels","ind":"Prijzen","t":2,"v":26.7},{"sector":"Meubels","ind":"Prijzen","t":3,"v":17.3},{"sector":"Meubels","ind":"Prijzen","t":4,"v":20.3},{"sector":"Meubels","ind":"Prijzen","t":5,"v":21.7},{"sector":"Meubels","ind":"Prijzen","t":6,"v":21},{"sector":"Meubels","ind":"Prijzen","t":7,"v":16.7},{"sector":"Meubels","ind":"Prijzen","t":8,"v":20},{"sector":"Meubels","ind":"Prijzen","t":9,"v":23.3},{"sector":"Meubels","ind":"Prijzen","t":10,"v":19},{"sector":"Meubels","ind":"Prijzen","t":11,"v":15.7},{"sector":"Meubels","ind":"Prijzen","t":12,"v":26},{"sector":"Meubels","ind":"Prijzen","t":13,"v":33.3},{"sector":"Meubels","ind":"Prijzen","t":14,"v":56},{"sector":"Meubels","ind":"Prijzen","t":15,"v":41.7},{"sector":"Meubels","ind":"Prijzen","t":16,"v":29},{"sector":"Meubels","ind":"Prijzen","t":17,"v":27.3},
{"sector":"Meubels","ind":"Personeel","t":0,"v":-7},{"sector":"Meubels","ind":"Personeel","t":1,"v":-0.3},{"sector":"Meubels","ind":"Personeel","t":2,"v":0.3},{"sector":"Meubels","ind":"Personeel","t":3,"v":-1.3},{"sector":"Meubels","ind":"Personeel","t":4,"v":1.7},{"sector":"Meubels","ind":"Personeel","t":5,"v":6.3},{"sector":"Meubels","ind":"Personeel","t":6,"v":0.3},{"sector":"Meubels","ind":"Personeel","t":7,"v":5},{"sector":"Meubels","ind":"Personeel","t":8,"v":18.3},{"sector":"Meubels","ind":"Personeel","t":9,"v":28.3},{"sector":"Meubels","ind":"Personeel","t":10,"v":13},{"sector":"Meubels","ind":"Personeel","t":11,"v":0.7},{"sector":"Meubels","ind":"Personeel","t":12,"v":10.3},{"sector":"Meubels","ind":"Personeel","t":13,"v":20.7},{"sector":"Meubels","ind":"Personeel","t":14,"v":26.3},{"sector":"Meubels","ind":"Personeel","t":15,"v":31},{"sector":"Meubels","ind":"Personeel","t":16,"v":35},{"sector":"Meubels","ind":"Personeel","t":17,"v":10.7},
{"sector":"Meubels","ind":"Klimaat","t":0,"v":49.3},{"sector":"Meubels","ind":"Klimaat","t":1,"v":42.7},{"sector":"Meubels","ind":"Klimaat","t":2,"v":29.3},{"sector":"Meubels","ind":"Klimaat","t":3,"v":18},{"sector":"Meubels","ind":"Klimaat","t":4,"v":15},{"sector":"Meubels","ind":"Klimaat","t":5,"v":31},{"sector":"Meubels","ind":"Klimaat","t":6,"v":36.7},{"sector":"Meubels","ind":"Klimaat","t":7,"v":46},{"sector":"Meubels","ind":"Klimaat","t":8,"v":46},{"sector":"Meubels","ind":"Klimaat","t":9,"v":43},{"sector":"Meubels","ind":"Klimaat","t":10,"v":44},{"sector":"Meubels","ind":"Klimaat","t":11,"v":46},{"sector":"Meubels","ind":"Klimaat","t":12,"v":45.3},{"sector":"Meubels","ind":"Klimaat","t":13,"v":52.7},{"sector":"Meubels","ind":"Klimaat","t":14,"v":54},{"sector":"Meubels","ind":"Klimaat","t":15,"v":53.3},{"sector":"Meubels","ind":"Klimaat","t":16,"v":54},{"sector":"Meubels","ind":"Klimaat","t":17,"v":30}
    ]
  },
  "spacing": 0,
  "vconcat": [
    {
      "width": 1021, "height": 49,
      "data": {"values": [{}]},
      "layer": [
        {"mark": {"type": "text", "text": "Optimisme blijft over bedrijfsactiviteit in tweede kwartaal", "fontSize": 26.2, "fontWeight": "bold", "color": "#0f8673", "align": "left", "baseline": "middle", "dx": 5, "dy": -5.5},
         "encoding": {"x": {"datum": 0, "type": "quantitative", "scale": {"domain": [0, 1]}, "axis": null}}},
        {"mark": {"type": "rule", "color": "#555555", "strokeWidth": 2, "yOffset": -9},
         "encoding": {"y": {"datum": 0, "type": "quantitative", "scale": {"domain": [0, 1]}, "axis": null}}}
      ]
    },
    {
      "spacing": 22,
      "hconcat": [
        {
          "width": 150, "height": 609,
          "data": {"values": [{}]},
          "layer": [
            {"mark": {"type": "rect", "color": "#00927f"},
             "encoding": {"x": {"value": 0}, "x2": {"value": "width"}, "y": {"value": 0}, "y2": {"value": "height"}}},
            {"mark": {"type": "text", "text": ["Oordeel van", "ondernemers", "in sectoren", "over  omzet,", "prijs, perso-", "neel en", "economisch", "klimaat"], "fontSize": 19.5, "fontWeight": "bold", "color": "white", "align": "left", "baseline": "middle", "lineHeight": 23.5, "dx": 13, "dy": -129.5},
             "encoding": {"x": {"datum": 0, "type": "quantitative", "scale": {"domain": [0, 1]}, "axis": null}}},
            {"mark": {"type": "text", "text": ["(>0 = meer", "positief", "gestemde", "ondernemers)"], "fontSize": 19.5, "fontWeight": "normal", "color": "white", "align": "left", "baseline": "middle", "lineHeight": 23.5, "dx": 13, "dy": 58.5},
             "encoding": {"x": {"datum": 0, "type": "quantitative", "scale": {"domain": [0, 1]}, "axis": null}}}
          ]
        },
        {
          "spacing": 0,
          "vconcat": [
            {
              "spacing": 6,
              "bounds": "flush",
              "hconcat": [
                {"width": 205, "height": 63.5, "data": {"values": [{}]}, "mark": {"type": "text", "text": ""}, "encoding": {}},
                {
                  "width": 634, "height": 63.5,
                  "data": {"name": "inds"},
                  "layer": [
                    {"mark": {"type": "text", "fontSize": 15, "fontWeight": "bold", "color": "#23968a", "baseline": "middle", "dy": -12.75},
                     "encoding": {"text": {"field": "label"}, "x": {"field": "label", "type": "nominal", "scale": {"domain": ["Productie", "Prijzen", "Personeelssterkte", "Economisch klimaat"], "paddingInner": 0.0375, "paddingOuter": 0}, "axis": null}}},
                    {"mark": {"type": "text", "text": "komende 3 maanden", "fontSize": 13, "fontStyle": "italic", "color": "#222222", "baseline": "middle", "dy": 11.25},
                     "encoding": {"x": {"field": "label", "type": "nominal", "axis": null}}}
                  ]
                }
              ]
            },
            {
              "spacing": 8.7,
              "vconcat": [
                {"spacing": 6, "bounds": "flush", "hconcat": [
                  {"width": 205, "height": 50, "view": {"fill": "#d9d9d9"}, "data": {"values": [{"label": "Chemie"}]}, "mark": {"type": "text", "align": "left", "baseline": "middle", "dx": 1.5, "fontSize": 14.5, "fontWeight": "bold", "color": "#1c8b80"}, "encoding": {"text": {"field": "label"}, "x": {"datum": 0, "type": "quantitative", "scale": {"domain": [0, 1]}, "axis": null}}},
                  {"width": 154, "height": 50, "data": {"name": "series"}, "transform": [{"filter": "datum.sector=='Chemie'&&datum.ind=='Productie'"}, {"joinaggregate": [{"op": "min", "field": "v", "as": "lo"}, {"op": "max", "field": "v", "as": "hi"}]}], "layer": [
                    {"transform": [{"filter": "datum.t==0"}], "mark": "rect", "encoding": {"x": {"value": 0}, "x2": {"value": "width"}, "y": {"value": 0}, "y2": {"value": "height"}}},
                    {"transform": [{"filter": "datum.t==0&&datum.lo<=0&&datum.hi>=0"}, {"calculate": "0", "as": "zero"}], "mark": "rule", "encoding": {"y": {"field": "zero", "type": "quantitative", "axis": null}}},
                    {"mark": "line", "encoding": {"x": {"field": "t", "type": "quantitative", "scale": {"domain": [-0.7, 17.7], "nice": false}, "axis": null}, "y": {"field": "v", "type": "quantitative", "scale": {"zero": false, "nice": false, "padding": 5.5}, "axis": null}}}]},
                  {"width": 154, "height": 50, "data": {"name": "series"}, "transform": [{"filter": "datum.sector=='Chemie'&&datum.ind=='Prijzen'"}, {"joinaggregate": [{"op": "min", "field": "v", "as": "lo"}, {"op": "max", "field": "v", "as": "hi"}]}], "layer": [
                    {"transform": [{"filter": "datum.t==0"}], "mark": "rect", "encoding": {"x": {"value": 0}, "x2": {"value": "width"}, "y": {"value": 0}, "y2": {"value": "height"}}},
                    {"transform": [{"filter": "datum.t==0&&datum.lo<=0&&datum.hi>=0"}, {"calculate": "0", "as": "zero"}], "mark": "rule", "encoding": {"y": {"field": "zero", "type": "quantitative", "axis": null}}},
                    {"mark": "line", "encoding": {"x": {"field": "t", "type": "quantitative", "scale": {"domain": [-0.7, 17.7], "nice": false}, "axis": null}, "y": {"field": "v", "type": "quantitative", "scale": {"zero": false, "nice": false, "padding": 5.5}, "axis": null}}}]},
                  {"width": 154, "height": 50, "data": {"name": "series"}, "transform": [{"filter": "datum.sector=='Chemie'&&datum.ind=='Personeel'"}, {"joinaggregate": [{"op": "min", "field": "v", "as": "lo"}, {"op": "max", "field": "v", "as": "hi"}]}], "layer": [
                    {"transform": [{"filter": "datum.t==0"}], "mark": "rect", "encoding": {"x": {"value": 0}, "x2": {"value": "width"}, "y": {"value": 0}, "y2": {"value": "height"}}},
                    {"transform": [{"filter": "datum.t==0&&datum.lo<=0&&datum.hi>=0"}, {"calculate": "0", "as": "zero"}], "mark": "rule", "encoding": {"y": {"field": "zero", "type": "quantitative", "axis": null}}},
                    {"mark": "line", "encoding": {"x": {"field": "t", "type": "quantitative", "scale": {"domain": [-0.7, 17.7], "nice": false}, "axis": null}, "y": {"field": "v", "type": "quantitative", "scale": {"zero": false, "nice": false, "padding": 5.5}, "axis": null}}}]},
                  {"width": 154, "height": 50, "data": {"name": "series"}, "transform": [{"filter": "datum.sector=='Chemie'&&datum.ind=='Klimaat'"}, {"joinaggregate": [{"op": "min", "field": "v", "as": "lo"}, {"op": "max", "field": "v", "as": "hi"}]}], "layer": [
                    {"transform": [{"filter": "datum.t==0"}], "mark": "rect", "encoding": {"x": {"value": 0}, "x2": {"value": "width"}, "y": {"value": 0}, "y2": {"value": "height"}}},
                    {"transform": [{"filter": "datum.t==0&&datum.lo<=0&&datum.hi>=0"}, {"calculate": "0", "as": "zero"}], "mark": "rule", "encoding": {"y": {"field": "zero", "type": "quantitative", "axis": null}}},
                    {"mark": "line", "encoding": {"x": {"field": "t", "type": "quantitative", "scale": {"domain": [-0.7, 17.7], "nice": false}, "axis": null}, "y": {"field": "v", "type": "quantitative", "scale": {"zero": false, "nice": false, "padding": 5.5}, "axis": null}}}]}
                ]},
                {"spacing": 6, "bounds": "flush", "hconcat": [
                  {"width": 205, "height": 50, "data": {"values": [{"label": "Rubber-/kunststofproduct"}]}, "mark": {"type": "text", "align": "left", "baseline": "middle", "dx": 1.5, "fontSize": 14.5, "fontWeight": "bold", "color": "#1c8b80"}, "encoding": {"text": {"field": "label"}, "x": {"datum": 0, "type": "quantitative", "scale": {"domain": [0, 1]}, "axis": null}}},
                  {"width": 154, "height": 50, "data": {"name": "series"}, "transform": [{"filter": "datum.sector=='Rubber'&&datum.ind=='Productie'"}, {"joinaggregate": [{"op": "min", "field": "v", "as": "lo"}, {"op": "max", "field": "v", "as": "hi"}]}], "layer": [
                    {"transform": [{"filter": "datum.t==0&&datum.lo<=0&&datum.hi>=0"}, {"calculate": "0", "as": "zero"}], "mark": "rule", "encoding": {"y": {"field": "zero", "type": "quantitative", "axis": null}}},
                    {"mark": "line", "encoding": {"x": {"field": "t", "type": "quantitative", "scale": {"domain": [-0.7, 17.7], "nice": false}, "axis": null}, "y": {"field": "v", "type": "quantitative", "scale": {"zero": false, "nice": false, "padding": 5.5}, "axis": null}}}]},
                  {"width": 154, "height": 50, "data": {"name": "series"}, "transform": [{"filter": "datum.sector=='Rubber'&&datum.ind=='Prijzen'"}, {"joinaggregate": [{"op": "min", "field": "v", "as": "lo"}, {"op": "max", "field": "v", "as": "hi"}]}], "layer": [
                    {"transform": [{"filter": "datum.t==0&&datum.lo<=0&&datum.hi>=0"}, {"calculate": "0", "as": "zero"}], "mark": "rule", "encoding": {"y": {"field": "zero", "type": "quantitative", "axis": null}}},
                    {"mark": "line", "encoding": {"x": {"field": "t", "type": "quantitative", "scale": {"domain": [-0.7, 17.7], "nice": false}, "axis": null}, "y": {"field": "v", "type": "quantitative", "scale": {"zero": false, "nice": false, "padding": 5.5}, "axis": null}}}]},
                  {"width": 154, "height": 50, "data": {"name": "series"}, "transform": [{"filter": "datum.sector=='Rubber'&&datum.ind=='Personeel'"}, {"joinaggregate": [{"op": "min", "field": "v", "as": "lo"}, {"op": "max", "field": "v", "as": "hi"}]}], "layer": [
                    {"transform": [{"filter": "datum.t==0&&datum.lo<=0&&datum.hi>=0"}, {"calculate": "0", "as": "zero"}], "mark": "rule", "encoding": {"y": {"field": "zero", "type": "quantitative", "axis": null}}},
                    {"mark": "line", "encoding": {"x": {"field": "t", "type": "quantitative", "scale": {"domain": [-0.7, 17.7], "nice": false}, "axis": null}, "y": {"field": "v", "type": "quantitative", "scale": {"zero": false, "nice": false, "padding": 5.5}, "axis": null}}}]},
                  {"width": 154, "height": 50, "data": {"name": "series"}, "transform": [{"filter": "datum.sector=='Rubber'&&datum.ind=='Klimaat'"}, {"joinaggregate": [{"op": "min", "field": "v", "as": "lo"}, {"op": "max", "field": "v", "as": "hi"}]}], "layer": [
                    {"transform": [{"filter": "datum.t==0&&datum.lo<=0&&datum.hi>=0"}, {"calculate": "0", "as": "zero"}], "mark": "rule", "encoding": {"y": {"field": "zero", "type": "quantitative", "axis": null}}},
                    {"mark": "line", "encoding": {"x": {"field": "t", "type": "quantitative", "scale": {"domain": [-0.7, 17.7], "nice": false}, "axis": null}, "y": {"field": "v", "type": "quantitative", "scale": {"zero": false, "nice": false, "padding": 5.5}, "axis": null}}}]}
                ]},
                {"spacing": 6, "bounds": "flush", "hconcat": [
                  {"width": 205, "height": 50, "view": {"fill": "#d9d9d9"}, "data": {"values": [{"label": "Basismetaal"}]}, "mark": {"type": "text", "align": "left", "baseline": "middle", "dx": 1.5, "fontSize": 14.5, "fontWeight": "bold", "color": "#1c8b80"}, "encoding": {"text": {"field": "label"}, "x": {"datum": 0, "type": "quantitative", "scale": {"domain": [0, 1]}, "axis": null}}},
                  {"width": 154, "height": 50, "data": {"name": "series"}, "transform": [{"filter": "datum.sector=='Basismetaal'&&datum.ind=='Productie'"}, {"joinaggregate": [{"op": "min", "field": "v", "as": "lo"}, {"op": "max", "field": "v", "as": "hi"}]}], "layer": [
                    {"transform": [{"filter": "datum.t==0"}], "mark": "rect", "encoding": {"x": {"value": 0}, "x2": {"value": "width"}, "y": {"value": 0}, "y2": {"value": "height"}}},
                    {"transform": [{"filter": "datum.t==0&&datum.lo<=0&&datum.hi>=0"}, {"calculate": "0", "as": "zero"}], "mark": "rule", "encoding": {"y": {"field": "zero", "type": "quantitative", "axis": null}}},
                    {"mark": "line", "encoding": {"x": {"field": "t", "type": "quantitative", "scale": {"domain": [-0.7, 17.7], "nice": false}, "axis": null}, "y": {"field": "v", "type": "quantitative", "scale": {"zero": false, "nice": false, "padding": 5.5}, "axis": null}}}]},
                  {"width": 154, "height": 50, "data": {"name": "series"}, "transform": [{"filter": "datum.sector=='Basismetaal'&&datum.ind=='Prijzen'"}, {"joinaggregate": [{"op": "min", "field": "v", "as": "lo"}, {"op": "max", "field": "v", "as": "hi"}]}], "layer": [
                    {"transform": [{"filter": "datum.t==0"}], "mark": "rect", "encoding": {"x": {"value": 0}, "x2": {"value": "width"}, "y": {"value": 0}, "y2": {"value": "height"}}},
                    {"transform": [{"filter": "datum.t==0&&datum.lo<=0&&datum.hi>=0"}, {"calculate": "0", "as": "zero"}], "mark": "rule", "encoding": {"y": {"field": "zero", "type": "quantitative", "axis": null}}},
                    {"mark": "line", "encoding": {"x": {"field": "t", "type": "quantitative", "scale": {"domain": [-0.7, 17.7], "nice": false}, "axis": null}, "y": {"field": "v", "type": "quantitative", "scale": {"zero": false, "nice": false, "padding": 5.5}, "axis": null}}}]},
                  {"width": 154, "height": 50, "data": {"name": "series"}, "transform": [{"filter": "datum.sector=='Basismetaal'&&datum.ind=='Personeel'"}, {"joinaggregate": [{"op": "min", "field": "v", "as": "lo"}, {"op": "max", "field": "v", "as": "hi"}]}], "layer": [
                    {"transform": [{"filter": "datum.t==0"}], "mark": "rect", "encoding": {"x": {"value": 0}, "x2": {"value": "width"}, "y": {"value": 0}, "y2": {"value": "height"}}},
                    {"transform": [{"filter": "datum.t==0&&datum.lo<=0&&datum.hi>=0"}, {"calculate": "0", "as": "zero"}], "mark": "rule", "encoding": {"y": {"field": "zero", "type": "quantitative", "axis": null}}},
                    {"mark": "line", "encoding": {"x": {"field": "t", "type": "quantitative", "scale": {"domain": [-0.7, 17.7], "nice": false}, "axis": null}, "y": {"field": "v", "type": "quantitative", "scale": {"zero": false, "nice": false, "padding": 5.5}, "axis": null}}}]},
                  {"width": 154, "height": 50, "data": {"name": "series"}, "transform": [{"filter": "datum.sector=='Basismetaal'&&datum.ind=='Klimaat'"}, {"joinaggregate": [{"op": "min", "field": "v", "as": "lo"}, {"op": "max", "field": "v", "as": "hi"}]}], "layer": [
                    {"transform": [{"filter": "datum.t==0"}], "mark": "rect", "encoding": {"x": {"value": 0}, "x2": {"value": "width"}, "y": {"value": 0}, "y2": {"value": "height"}}},
                    {"transform": [{"filter": "datum.t==0&&datum.lo<=0&&datum.hi>=0"}, {"calculate": "0", "as": "zero"}], "mark": "rule", "encoding": {"y": {"field": "zero", "type": "quantitative", "axis": null}}},
                    {"mark": "line", "encoding": {"x": {"field": "t", "type": "quantitative", "scale": {"domain": [-0.7, 17.7], "nice": false}, "axis": null}, "y": {"field": "v", "type": "quantitative", "scale": {"zero": false, "nice": false, "padding": 5.5}, "axis": null}}}]}
                ]},
                {"spacing": 6, "bounds": "flush", "hconcat": [
                  {"width": 205, "height": 50, "data": {"values": [{"label": "Metaalproducten"}]}, "mark": {"type": "text", "align": "left", "baseline": "middle", "dx": 1.5, "fontSize": 14.5, "fontWeight": "bold", "color": "#1c8b80"}, "encoding": {"text": {"field": "label"}, "x": {"datum": 0, "type": "quantitative", "scale": {"domain": [0, 1]}, "axis": null}}},
                  {"width": 154, "height": 50, "data": {"name": "series"}, "transform": [{"filter": "datum.sector=='Metaal'&&datum.ind=='Productie'"}, {"joinaggregate": [{"op": "min", "field": "v", "as": "lo"}, {"op": "max", "field": "v", "as": "hi"}]}], "layer": [
                    {"transform": [{"filter": "datum.t==0&&datum.lo<=0&&datum.hi>=0"}, {"calculate": "0", "as": "zero"}], "mark": "rule", "encoding": {"y": {"field": "zero", "type": "quantitative", "axis": null}}},
                    {"mark": "line", "encoding": {"x": {"field": "t", "type": "quantitative", "scale": {"domain": [-0.7, 17.7], "nice": false}, "axis": null}, "y": {"field": "v", "type": "quantitative", "scale": {"zero": false, "nice": false, "padding": 5.5}, "axis": null}}}]},
                  {"width": 154, "height": 50, "data": {"name": "series"}, "transform": [{"filter": "datum.sector=='Metaal'&&datum.ind=='Prijzen'"}, {"joinaggregate": [{"op": "min", "field": "v", "as": "lo"}, {"op": "max", "field": "v", "as": "hi"}]}], "layer": [
                    {"transform": [{"filter": "datum.t==0&&datum.lo<=0&&datum.hi>=0"}, {"calculate": "0", "as": "zero"}], "mark": "rule", "encoding": {"y": {"field": "zero", "type": "quantitative", "axis": null}}},
                    {"mark": "line", "encoding": {"x": {"field": "t", "type": "quantitative", "scale": {"domain": [-0.7, 17.7], "nice": false}, "axis": null}, "y": {"field": "v", "type": "quantitative", "scale": {"zero": false, "nice": false, "padding": 5.5}, "axis": null}}}]},
                  {"width": 154, "height": 50, "data": {"name": "series"}, "transform": [{"filter": "datum.sector=='Metaal'&&datum.ind=='Personeel'"}, {"joinaggregate": [{"op": "min", "field": "v", "as": "lo"}, {"op": "max", "field": "v", "as": "hi"}]}], "layer": [
                    {"transform": [{"filter": "datum.t==0&&datum.lo<=0&&datum.hi>=0"}, {"calculate": "0", "as": "zero"}], "mark": "rule", "encoding": {"y": {"field": "zero", "type": "quantitative", "axis": null}}},
                    {"mark": "line", "encoding": {"x": {"field": "t", "type": "quantitative", "scale": {"domain": [-0.7, 17.7], "nice": false}, "axis": null}, "y": {"field": "v", "type": "quantitative", "scale": {"zero": false, "nice": false, "padding": 5.5}, "axis": null}}}]},
                  {"width": 154, "height": 50, "data": {"name": "series"}, "transform": [{"filter": "datum.sector=='Metaal'&&datum.ind=='Klimaat'"}, {"joinaggregate": [{"op": "min", "field": "v", "as": "lo"}, {"op": "max", "field": "v", "as": "hi"}]}], "layer": [
                    {"transform": [{"filter": "datum.t==0&&datum.lo<=0&&datum.hi>=0"}, {"calculate": "0", "as": "zero"}], "mark": "rule", "encoding": {"y": {"field": "zero", "type": "quantitative", "axis": null}}},
                    {"mark": "line", "encoding": {"x": {"field": "t", "type": "quantitative", "scale": {"domain": [-0.7, 17.7], "nice": false}, "axis": null}, "y": {"field": "v", "type": "quantitative", "scale": {"zero": false, "nice": false, "padding": 5.5}, "axis": null}}}]}
                ]},
                {"spacing": 6, "bounds": "flush", "hconcat": [
                  {"width": 205, "height": 50, "view": {"fill": "#d9d9d9"}, "data": {"values": [{"label": "Elektrotechnisch"}]}, "mark": {"type": "text", "align": "left", "baseline": "middle", "dx": 1.5, "fontSize": 14.5, "fontWeight": "bold", "color": "#1c8b80"}, "encoding": {"text": {"field": "label"}, "x": {"datum": 0, "type": "quantitative", "scale": {"domain": [0, 1]}, "axis": null}}},
                  {"width": 154, "height": 50, "data": {"name": "series"}, "transform": [{"filter": "datum.sector=='Elektrotech'&&datum.ind=='Productie'"}, {"joinaggregate": [{"op": "min", "field": "v", "as": "lo"}, {"op": "max", "field": "v", "as": "hi"}]}], "layer": [
                    {"transform": [{"filter": "datum.t==0"}], "mark": "rect", "encoding": {"x": {"value": 0}, "x2": {"value": "width"}, "y": {"value": 0}, "y2": {"value": "height"}}},
                    {"transform": [{"filter": "datum.t==0&&datum.lo<=0&&datum.hi>=0"}, {"calculate": "0", "as": "zero"}], "mark": "rule", "encoding": {"y": {"field": "zero", "type": "quantitative", "axis": null}}},
                    {"mark": "line", "encoding": {"x": {"field": "t", "type": "quantitative", "scale": {"domain": [-0.7, 17.7], "nice": false}, "axis": null}, "y": {"field": "v", "type": "quantitative", "scale": {"zero": false, "nice": false, "padding": 5.5}, "axis": null}}}]},
                  {"width": 154, "height": 50, "data": {"name": "series"}, "transform": [{"filter": "datum.sector=='Elektrotech'&&datum.ind=='Prijzen'"}, {"joinaggregate": [{"op": "min", "field": "v", "as": "lo"}, {"op": "max", "field": "v", "as": "hi"}]}], "layer": [
                    {"transform": [{"filter": "datum.t==0"}], "mark": "rect", "encoding": {"x": {"value": 0}, "x2": {"value": "width"}, "y": {"value": 0}, "y2": {"value": "height"}}},
                    {"transform": [{"filter": "datum.t==0&&datum.lo<=0&&datum.hi>=0"}, {"calculate": "0", "as": "zero"}], "mark": "rule", "encoding": {"y": {"field": "zero", "type": "quantitative", "axis": null}}},
                    {"mark": "line", "encoding": {"x": {"field": "t", "type": "quantitative", "scale": {"domain": [-0.7, 17.7], "nice": false}, "axis": null}, "y": {"field": "v", "type": "quantitative", "scale": {"zero": false, "nice": false, "padding": 5.5}, "axis": null}}}]},
                  {"width": 154, "height": 50, "data": {"name": "series"}, "transform": [{"filter": "datum.sector=='Elektrotech'&&datum.ind=='Personeel'"}, {"joinaggregate": [{"op": "min", "field": "v", "as": "lo"}, {"op": "max", "field": "v", "as": "hi"}]}], "layer": [
                    {"transform": [{"filter": "datum.t==0"}], "mark": "rect", "encoding": {"x": {"value": 0}, "x2": {"value": "width"}, "y": {"value": 0}, "y2": {"value": "height"}}},
                    {"transform": [{"filter": "datum.t==0&&datum.lo<=0&&datum.hi>=0"}, {"calculate": "0", "as": "zero"}], "mark": "rule", "encoding": {"y": {"field": "zero", "type": "quantitative", "axis": null}}},
                    {"mark": "line", "encoding": {"x": {"field": "t", "type": "quantitative", "scale": {"domain": [-0.7, 17.7], "nice": false}, "axis": null}, "y": {"field": "v", "type": "quantitative", "scale": {"zero": false, "nice": false, "padding": 5.5}, "axis": null}}}]},
                  {"width": 154, "height": 50, "data": {"name": "series"}, "transform": [{"filter": "datum.sector=='Elektrotech'&&datum.ind=='Klimaat'"}, {"joinaggregate": [{"op": "min", "field": "v", "as": "lo"}, {"op": "max", "field": "v", "as": "hi"}]}], "layer": [
                    {"transform": [{"filter": "datum.t==0"}], "mark": "rect", "encoding": {"x": {"value": 0}, "x2": {"value": "width"}, "y": {"value": 0}, "y2": {"value": "height"}}},
                    {"transform": [{"filter": "datum.t==0&&datum.lo<=0&&datum.hi>=0"}, {"calculate": "0", "as": "zero"}], "mark": "rule", "encoding": {"y": {"field": "zero", "type": "quantitative", "axis": null}}},
                    {"mark": "line", "encoding": {"x": {"field": "t", "type": "quantitative", "scale": {"domain": [-0.7, 17.7], "nice": false}, "axis": null}, "y": {"field": "v", "type": "quantitative", "scale": {"zero": false, "nice": false, "padding": 5.5}, "axis": null}}}]}
                ]},
                {"spacing": 6, "bounds": "flush", "hconcat": [
                  {"width": 205, "height": 50, "data": {"values": [{"label": "Elektrische apparaten"}]}, "mark": {"type": "text", "align": "left", "baseline": "middle", "dx": 1.5, "fontSize": 14.5, "fontWeight": "bold", "color": "#1c8b80"}, "encoding": {"text": {"field": "label"}, "x": {"datum": 0, "type": "quantitative", "scale": {"domain": [0, 1]}, "axis": null}}},
                  {"width": 154, "height": 50, "data": {"name": "series"}, "transform": [{"filter": "datum.sector=='Elektrisch'&&datum.ind=='Productie'"}, {"joinaggregate": [{"op": "min", "field": "v", "as": "lo"}, {"op": "max", "field": "v", "as": "hi"}]}], "layer": [
                    {"transform": [{"filter": "datum.t==0&&datum.lo<=0&&datum.hi>=0"}, {"calculate": "0", "as": "zero"}], "mark": "rule", "encoding": {"y": {"field": "zero", "type": "quantitative", "axis": null}}},
                    {"mark": "line", "encoding": {"x": {"field": "t", "type": "quantitative", "scale": {"domain": [-0.7, 17.7], "nice": false}, "axis": null}, "y": {"field": "v", "type": "quantitative", "scale": {"zero": false, "nice": false, "padding": 5.5}, "axis": null}}}]},
                  {"width": 154, "height": 50, "data": {"name": "series"}, "transform": [{"filter": "datum.sector=='Elektrisch'&&datum.ind=='Prijzen'"}, {"joinaggregate": [{"op": "min", "field": "v", "as": "lo"}, {"op": "max", "field": "v", "as": "hi"}]}], "layer": [
                    {"transform": [{"filter": "datum.t==0&&datum.lo<=0&&datum.hi>=0"}, {"calculate": "0", "as": "zero"}], "mark": "rule", "encoding": {"y": {"field": "zero", "type": "quantitative", "axis": null}}},
                    {"mark": "line", "encoding": {"x": {"field": "t", "type": "quantitative", "scale": {"domain": [-0.7, 17.7], "nice": false}, "axis": null}, "y": {"field": "v", "type": "quantitative", "scale": {"zero": false, "nice": false, "padding": 5.5}, "axis": null}}}]},
                  {"width": 154, "height": 50, "data": {"name": "series"}, "transform": [{"filter": "datum.sector=='Elektrisch'&&datum.ind=='Personeel'"}, {"joinaggregate": [{"op": "min", "field": "v", "as": "lo"}, {"op": "max", "field": "v", "as": "hi"}]}], "layer": [
                    {"transform": [{"filter": "datum.t==0&&datum.lo<=0&&datum.hi>=0"}, {"calculate": "0", "as": "zero"}], "mark": "rule", "encoding": {"y": {"field": "zero", "type": "quantitative", "axis": null}}},
                    {"mark": "line", "encoding": {"x": {"field": "t", "type": "quantitative", "scale": {"domain": [-0.7, 17.7], "nice": false}, "axis": null}, "y": {"field": "v", "type": "quantitative", "scale": {"zero": false, "nice": false, "padding": 5.5}, "axis": null}}}]},
                  {"width": 154, "height": 50, "data": {"name": "series"}, "transform": [{"filter": "datum.sector=='Elektrisch'&&datum.ind=='Klimaat'"}, {"joinaggregate": [{"op": "min", "field": "v", "as": "lo"}, {"op": "max", "field": "v", "as": "hi"}]}], "layer": [
                    {"transform": [{"filter": "datum.t==0&&datum.lo<=0&&datum.hi>=0"}, {"calculate": "0", "as": "zero"}], "mark": "rule", "encoding": {"y": {"field": "zero", "type": "quantitative", "axis": null}}},
                    {"mark": "line", "encoding": {"x": {"field": "t", "type": "quantitative", "scale": {"domain": [-0.7, 17.7], "nice": false}, "axis": null}, "y": {"field": "v", "type": "quantitative", "scale": {"zero": false, "nice": false, "padding": 5.5}, "axis": null}}}]}
                ]},
                {"spacing": 6, "bounds": "flush", "hconcat": [
                  {"width": 205, "height": 50, "view": {"fill": "#d9d9d9"}, "data": {"values": [{"label": "Machines"}]}, "mark": {"type": "text", "align": "left", "baseline": "middle", "dx": 1.5, "fontSize": 14.5, "fontWeight": "bold", "color": "#1c8b80"}, "encoding": {"text": {"field": "label"}, "x": {"datum": 0, "type": "quantitative", "scale": {"domain": [0, 1]}, "axis": null}}},
                  {"width": 154, "height": 50, "data": {"name": "series"}, "transform": [{"filter": "datum.sector=='Machines'&&datum.ind=='Productie'"}, {"joinaggregate": [{"op": "min", "field": "v", "as": "lo"}, {"op": "max", "field": "v", "as": "hi"}]}], "layer": [
                    {"transform": [{"filter": "datum.t==0"}], "mark": "rect", "encoding": {"x": {"value": 0}, "x2": {"value": "width"}, "y": {"value": 0}, "y2": {"value": "height"}}},
                    {"transform": [{"filter": "datum.t==0&&datum.lo<=0&&datum.hi>=0"}, {"calculate": "0", "as": "zero"}], "mark": "rule", "encoding": {"y": {"field": "zero", "type": "quantitative", "axis": null}}},
                    {"mark": "line", "encoding": {"x": {"field": "t", "type": "quantitative", "scale": {"domain": [-0.7, 17.7], "nice": false}, "axis": null}, "y": {"field": "v", "type": "quantitative", "scale": {"zero": false, "nice": false, "padding": 5.5}, "axis": null}}}]},
                  {"width": 154, "height": 50, "data": {"name": "series"}, "transform": [{"filter": "datum.sector=='Machines'&&datum.ind=='Prijzen'"}, {"joinaggregate": [{"op": "min", "field": "v", "as": "lo"}, {"op": "max", "field": "v", "as": "hi"}]}], "layer": [
                    {"transform": [{"filter": "datum.t==0"}], "mark": "rect", "encoding": {"x": {"value": 0}, "x2": {"value": "width"}, "y": {"value": 0}, "y2": {"value": "height"}}},
                    {"transform": [{"filter": "datum.t==0&&datum.lo<=0&&datum.hi>=0"}, {"calculate": "0", "as": "zero"}], "mark": "rule", "encoding": {"y": {"field": "zero", "type": "quantitative", "axis": null}}},
                    {"mark": "line", "encoding": {"x": {"field": "t", "type": "quantitative", "scale": {"domain": [-0.7, 17.7], "nice": false}, "axis": null}, "y": {"field": "v", "type": "quantitative", "scale": {"zero": false, "nice": false, "padding": 5.5}, "axis": null}}}]},
                  {"width": 154, "height": 50, "data": {"name": "series"}, "transform": [{"filter": "datum.sector=='Machines'&&datum.ind=='Personeel'"}, {"joinaggregate": [{"op": "min", "field": "v", "as": "lo"}, {"op": "max", "field": "v", "as": "hi"}]}], "layer": [
                    {"transform": [{"filter": "datum.t==0"}], "mark": "rect", "encoding": {"x": {"value": 0}, "x2": {"value": "width"}, "y": {"value": 0}, "y2": {"value": "height"}}},
                    {"transform": [{"filter": "datum.t==0&&datum.lo<=0&&datum.hi>=0"}, {"calculate": "0", "as": "zero"}], "mark": "rule", "encoding": {"y": {"field": "zero", "type": "quantitative", "axis": null}}},
                    {"mark": "line", "encoding": {"x": {"field": "t", "type": "quantitative", "scale": {"domain": [-0.7, 17.7], "nice": false}, "axis": null}, "y": {"field": "v", "type": "quantitative", "scale": {"zero": false, "nice": false, "padding": 5.5}, "axis": null}}}]},
                  {"width": 154, "height": 50, "data": {"name": "series"}, "transform": [{"filter": "datum.sector=='Machines'&&datum.ind=='Klimaat'"}, {"joinaggregate": [{"op": "min", "field": "v", "as": "lo"}, {"op": "max", "field": "v", "as": "hi"}]}], "layer": [
                    {"transform": [{"filter": "datum.t==0"}], "mark": "rect", "encoding": {"x": {"value": 0}, "x2": {"value": "width"}, "y": {"value": 0}, "y2": {"value": "height"}}},
                    {"transform": [{"filter": "datum.t==0&&datum.lo<=0&&datum.hi>=0"}, {"calculate": "0", "as": "zero"}], "mark": "rule", "encoding": {"y": {"field": "zero", "type": "quantitative", "axis": null}}},
                    {"mark": "line", "encoding": {"x": {"field": "t", "type": "quantitative", "scale": {"domain": [-0.7, 17.7], "nice": false}, "axis": null}, "y": {"field": "v", "type": "quantitative", "scale": {"zero": false, "nice": false, "padding": 5.5}, "axis": null}}}]}
                ]},
                {"spacing": 6, "bounds": "flush", "hconcat": [
                  {"width": 205, "height": 50, "data": {"values": [{"label": "Transportmiddelen"}]}, "mark": {"type": "text", "align": "left", "baseline": "middle", "dx": 1.5, "fontSize": 14.5, "fontWeight": "bold", "color": "#1c8b80"}, "encoding": {"text": {"field": "label"}, "x": {"datum": 0, "type": "quantitative", "scale": {"domain": [0, 1]}, "axis": null}}},
                  {"width": 154, "height": 50, "data": {"name": "series"}, "transform": [{"filter": "datum.sector=='Transport'&&datum.ind=='Productie'"}, {"joinaggregate": [{"op": "min", "field": "v", "as": "lo"}, {"op": "max", "field": "v", "as": "hi"}]}], "layer": [
                    {"transform": [{"filter": "datum.t==0&&datum.lo<=0&&datum.hi>=0"}, {"calculate": "0", "as": "zero"}], "mark": "rule", "encoding": {"y": {"field": "zero", "type": "quantitative", "axis": null}}},
                    {"mark": "line", "encoding": {"x": {"field": "t", "type": "quantitative", "scale": {"domain": [-0.7, 17.7], "nice": false}, "axis": null}, "y": {"field": "v", "type": "quantitative", "scale": {"zero": false, "nice": false, "padding": 5.5}, "axis": null}}}]},
                  {"width": 154, "height": 50, "data": {"name": "series"}, "transform": [{"filter": "datum.sector=='Transport'&&datum.ind=='Prijzen'"}, {"joinaggregate": [{"op": "min", "field": "v", "as": "lo"}, {"op": "max", "field": "v", "as": "hi"}]}], "layer": [
                    {"transform": [{"filter": "datum.t==0&&datum.lo<=0&&datum.hi>=0"}, {"calculate": "0", "as": "zero"}], "mark": "rule", "encoding": {"y": {"field": "zero", "type": "quantitative", "axis": null}}},
                    {"mark": "line", "encoding": {"x": {"field": "t", "type": "quantitative", "scale": {"domain": [-0.7, 17.7], "nice": false}, "axis": null}, "y": {"field": "v", "type": "quantitative", "scale": {"zero": false, "nice": false, "padding": 5.5}, "axis": null}}}]},
                  {"width": 154, "height": 50, "data": {"name": "series"}, "transform": [{"filter": "datum.sector=='Transport'&&datum.ind=='Personeel'"}, {"joinaggregate": [{"op": "min", "field": "v", "as": "lo"}, {"op": "max", "field": "v", "as": "hi"}]}], "layer": [
                    {"transform": [{"filter": "datum.t==0&&datum.lo<=0&&datum.hi>=0"}, {"calculate": "0", "as": "zero"}], "mark": "rule", "encoding": {"y": {"field": "zero", "type": "quantitative", "axis": null}}},
                    {"mark": "line", "encoding": {"x": {"field": "t", "type": "quantitative", "scale": {"domain": [-0.7, 17.7], "nice": false}, "axis": null}, "y": {"field": "v", "type": "quantitative", "scale": {"zero": false, "nice": false, "padding": 5.5}, "axis": null}}}]},
                  {"width": 154, "height": 50, "data": {"name": "series"}, "transform": [{"filter": "datum.sector=='Transport'&&datum.ind=='Klimaat'"}, {"joinaggregate": [{"op": "min", "field": "v", "as": "lo"}, {"op": "max", "field": "v", "as": "hi"}]}], "layer": [
                    {"transform": [{"filter": "datum.t==0&&datum.lo<=0&&datum.hi>=0"}, {"calculate": "0", "as": "zero"}], "mark": "rule", "encoding": {"y": {"field": "zero", "type": "quantitative", "axis": null}}},
                    {"mark": "line", "encoding": {"x": {"field": "t", "type": "quantitative", "scale": {"domain": [-0.7, 17.7], "nice": false}, "axis": null}, "y": {"field": "v", "type": "quantitative", "scale": {"zero": false, "nice": false, "padding": 5.5}, "axis": null}}}]}
                ]},
                {"spacing": 6, "bounds": "flush", "hconcat": [
                  {"width": 205, "height": 50, "view": {"fill": "#d9d9d9"}, "data": {"values": [{"label": "Meubels"}]}, "mark": {"type": "text", "align": "left", "baseline": "middle", "dx": 1.5, "fontSize": 14.5, "fontWeight": "bold", "color": "#1c8b80"}, "encoding": {"text": {"field": "label"}, "x": {"datum": 0, "type": "quantitative", "scale": {"domain": [0, 1]}, "axis": null}}},
                  {"width": 154, "height": 50, "data": {"name": "series"}, "transform": [{"filter": "datum.sector=='Meubels'&&datum.ind=='Productie'"}, {"joinaggregate": [{"op": "min", "field": "v", "as": "lo"}, {"op": "max", "field": "v", "as": "hi"}]}], "layer": [
                    {"transform": [{"filter": "datum.t==0"}], "mark": "rect", "encoding": {"x": {"value": 0}, "x2": {"value": "width"}, "y": {"value": 0}, "y2": {"value": "height"}}},
                    {"transform": [{"filter": "datum.t==0&&datum.lo<=0&&datum.hi>=0"}, {"calculate": "0", "as": "zero"}], "mark": "rule", "encoding": {"y": {"field": "zero", "type": "quantitative", "axis": null}}},
                    {"mark": "line", "encoding": {"x": {"field": "t", "type": "quantitative", "scale": {"domain": [-0.7, 17.7], "nice": false}, "axis": null}, "y": {"field": "v", "type": "quantitative", "scale": {"zero": false, "nice": false, "padding": 5.5}, "axis": null}}}]},
                  {"width": 154, "height": 50, "data": {"name": "series"}, "transform": [{"filter": "datum.sector=='Meubels'&&datum.ind=='Prijzen'"}, {"joinaggregate": [{"op": "min", "field": "v", "as": "lo"}, {"op": "max", "field": "v", "as": "hi"}]}], "layer": [
                    {"transform": [{"filter": "datum.t==0"}], "mark": "rect", "encoding": {"x": {"value": 0}, "x2": {"value": "width"}, "y": {"value": 0}, "y2": {"value": "height"}}},
                    {"transform": [{"filter": "datum.t==0&&datum.lo<=0&&datum.hi>=0"}, {"calculate": "0", "as": "zero"}], "mark": "rule", "encoding": {"y": {"field": "zero", "type": "quantitative", "axis": null}}},
                    {"mark": "line", "encoding": {"x": {"field": "t", "type": "quantitative", "scale": {"domain": [-0.7, 17.7], "nice": false}, "axis": null}, "y": {"field": "v", "type": "quantitative", "scale": {"zero": false, "nice": false, "padding": 5.5}, "axis": null}}}]},
                  {"width": 154, "height": 50, "data": {"name": "series"}, "transform": [{"filter": "datum.sector=='Meubels'&&datum.ind=='Personeel'"}, {"joinaggregate": [{"op": "min", "field": "v", "as": "lo"}, {"op": "max", "field": "v", "as": "hi"}]}], "layer": [
                    {"transform": [{"filter": "datum.t==0"}], "mark": "rect", "encoding": {"x": {"value": 0}, "x2": {"value": "width"}, "y": {"value": 0}, "y2": {"value": "height"}}},
                    {"transform": [{"filter": "datum.t==0&&datum.lo<=0&&datum.hi>=0"}, {"calculate": "0", "as": "zero"}], "mark": "rule", "encoding": {"y": {"field": "zero", "type": "quantitative", "axis": null}}},
                    {"mark": "line", "encoding": {"x": {"field": "t", "type": "quantitative", "scale": {"domain": [-0.7, 17.7], "nice": false}, "axis": null}, "y": {"field": "v", "type": "quantitative", "scale": {"zero": false, "nice": false, "padding": 5.5}, "axis": null}}}]},
                  {"width": 154, "height": 50, "data": {"name": "series"}, "transform": [{"filter": "datum.sector=='Meubels'&&datum.ind=='Klimaat'"}, {"joinaggregate": [{"op": "min", "field": "v", "as": "lo"}, {"op": "max", "field": "v", "as": "hi"}]}], "layer": [
                    {"transform": [{"filter": "datum.t==0"}], "mark": "rect", "encoding": {"x": {"value": 0}, "x2": {"value": "width"}, "y": {"value": 0}, "y2": {"value": "height"}}},
                    {"transform": [{"filter": "datum.t==0&&datum.lo<=0&&datum.hi>=0"}, {"calculate": "0", "as": "zero"}], "mark": "rule", "encoding": {"y": {"field": "zero", "type": "quantitative", "axis": null}}},
                    {"mark": "line", "encoding": {"x": {"field": "t", "type": "quantitative", "scale": {"domain": [-0.7, 17.7], "nice": false}, "axis": null}, "y": {"field": "v", "type": "quantitative", "scale": {"zero": false, "nice": false, "padding": 5.5}, "axis": null}}}]}
                ]}
              ]
            }
          ]
        }
      ]
    },
    {
      "width": 1021, "height": 14.5,
      "data": {"values": [{}]},
      "layer": [
        {"mark": {"type": "text", "text": "Indien er geen horizontale as zichtbaar is in bovenstaande figuren , dan is de indicator sterker positief", "fontSize": 15, "fontStyle": "italic", "color": "#111111", "align": "center", "baseline": "middle", "dx": -12.5, "dy": -4.25}, "encoding": {}},
        {"mark": {"type": "rule", "color": "#444444", "strokeWidth": 2},
         "encoding": {"y": {"datum": 0, "type": "quantitative", "scale": {"domain": [0, 1]}, "axis": null}}}
      ]
    }
  ]
}
